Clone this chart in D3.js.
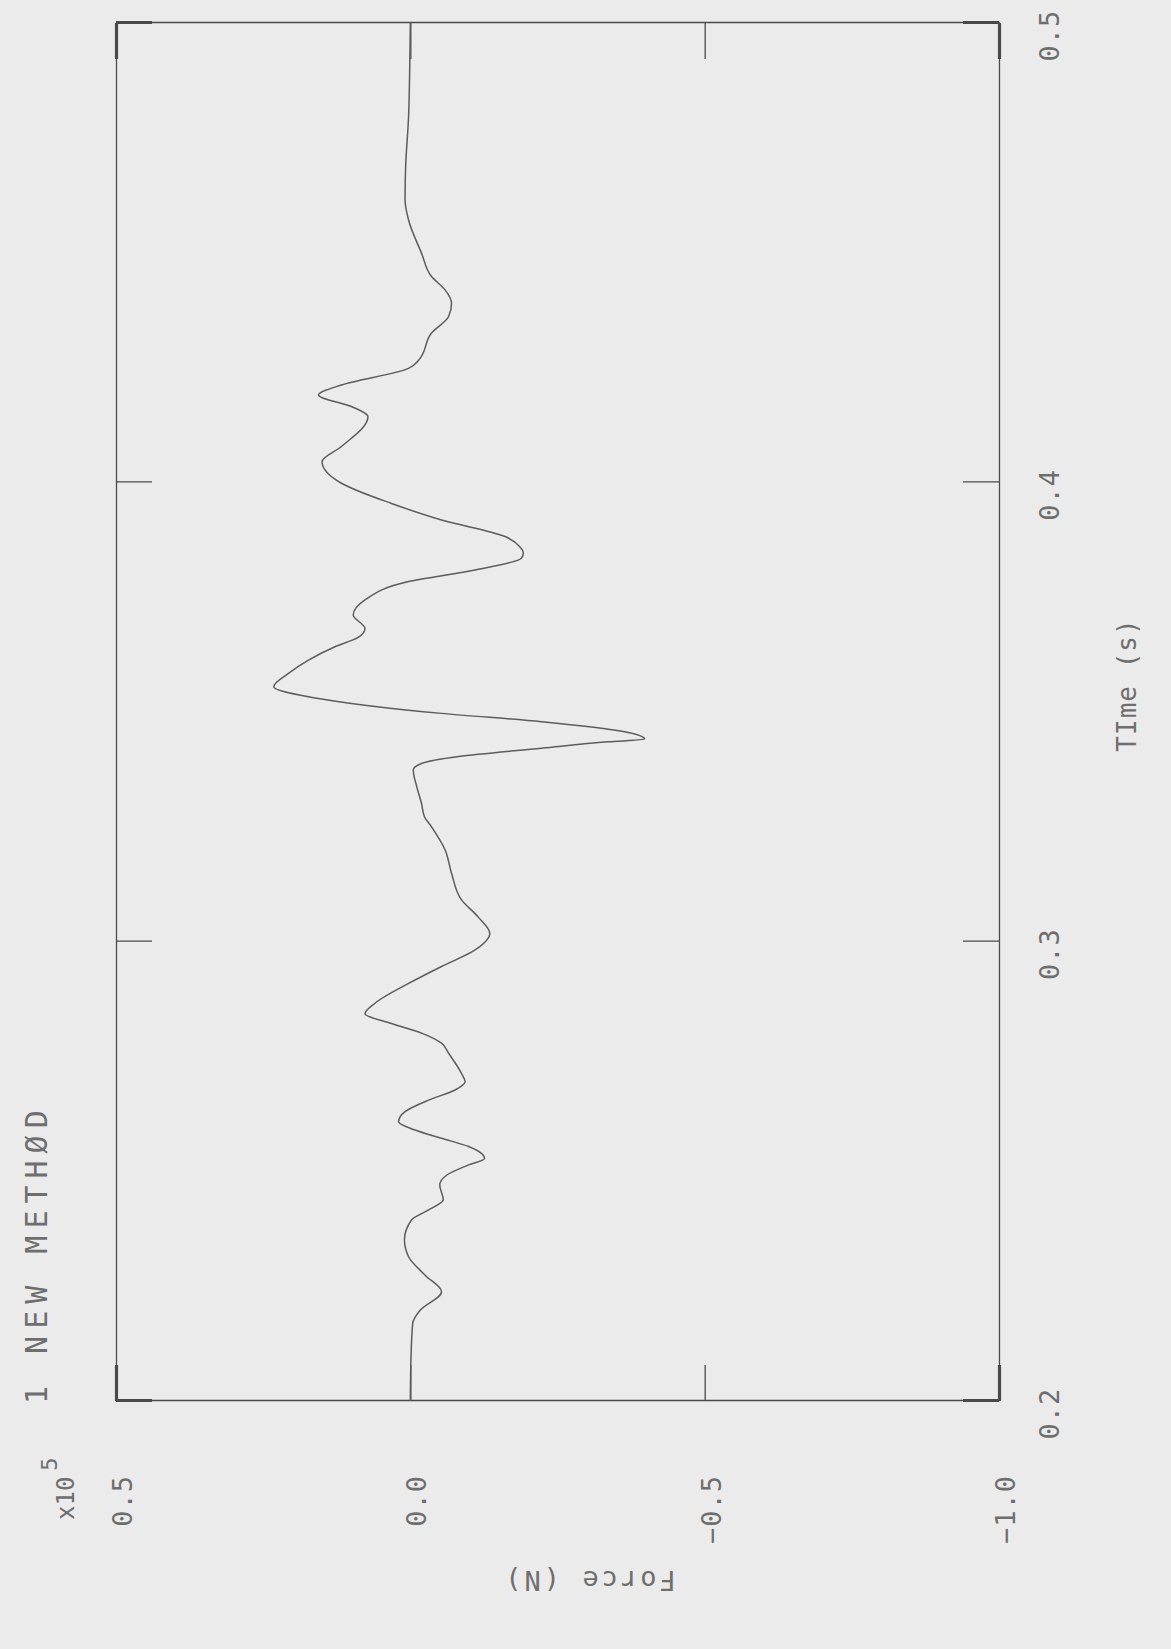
<!DOCTYPE html>
<html>
<head>
<meta charset="utf-8">
<script src="https://cdn.jsdelivr.net/npm/d3@7"></script>
<style>
    body {margin: 0; background: #ebebeb;}
    svg {display: block;}
    text {font-family: "DejaVu Sans Mono", monospace; fill: #6e6e6e;}
    .axis path, .axis line {stroke: #4a4a4a; stroke-width: 1.3; fill: none;}
    .axis line.end {stroke-width: 3.2;}
    .line.main {fill: none; stroke: #5c5c5c; stroke-width: 1.5;}
</style>
</head>
<body>
<svg id="chart" width="1171" height="1649"></svg>
<script>
// force curve (force in units of 1e5 N)
var timeS = [0.2000, 0.2089, 0.2169, 0.2198, 0.2238, 0.2274, 0.2314, 0.2351, 0.2394, 0.2416,
    0.2438, 0.2470, 0.2492, 0.2514, 0.2528, 0.2554, 0.2572, 0.2590, 0.2608, 0.2630,
    0.2655, 0.2677, 0.2695, 0.2713, 0.2757, 0.2779, 0.2801, 0.2822, 0.2843, 0.2866,
    0.2909, 0.2946, 0.2982, 0.3018, 0.3054, 0.3091, 0.3149, 0.3200, 0.3250, 0.3272,
    0.3301, 0.3337, 0.3374, 0.3388, 0.3403, 0.3421, 0.3435, 0.3441, 0.3457, 0.3479,
    0.3497, 0.3512, 0.3533, 0.3555, 0.3584, 0.3613, 0.3642, 0.3663, 0.3682, 0.3711,
    0.3744, 0.3784, 0.3809, 0.3835, 0.3846, 0.3860, 0.3882, 0.3918, 0.3954, 0.3998,
    0.4045, 0.4078, 0.4143, 0.4165, 0.4190, 0.4212, 0.4248, 0.4266, 0.4325, 0.4361,
    0.4390, 0.4419, 0.4448, 0.4499, 0.4571, 0.4615, 0.4687, 0.4796, 0.4905, 0.5000];

var forceN = [0.000, -0.001, -0.004, -0.017, -0.053, -0.025, 0.003, 0.010, -0.002, -0.031,
    -0.056, -0.050, -0.062, -0.099, -0.126, -0.099, -0.053, -0.008, 0.020, 0.009,
    -0.031, -0.076, -0.093, -0.087, -0.065, -0.053, -0.019, 0.032, 0.077, 0.060,
    0.003, -0.053, -0.110, -0.135, -0.115, -0.087, -0.070, -0.059, -0.036, -0.024,
    -0.019, -0.011, -0.005, -0.019, -0.082, -0.223, -0.336, -0.398, -0.364, -0.223,
    -0.053, 0.060, 0.173, 0.232, 0.207, 0.173, 0.128, 0.088, 0.077, 0.097,
    0.077, 0.003, -0.110, -0.189, -0.192, -0.186, -0.161, -0.053, 0.032, 0.117,
    0.150, 0.117, 0.072, 0.100, 0.156, 0.117, 0.003, -0.014, -0.036, -0.065,
    -0.070, -0.059, -0.036, -0.019, 0.003, 0.009, 0.008, 0.003, 0.001, 0.000];

var timeTicks = [0.2, 0.3, 0.4, 0.5];
var forceTicks = [0.5, 0.0, -0.5, -1.0];
var titleText = "1 NEW METHØD";

var data = timeS.map(function(t, i) {return {t: t, f: forceN[i]}});

var svg = d3.select("#chart");

// the sheet is turned a quarter turn: time runs up the page, force runs leftwards
var left = 116, bottom = 1401
    , width = 1378   // time extent
    , height = 883   // force extent
    , tick = 36;

var g = svg.append("g")
    .attr("transform", "translate(" + left + "," + bottom + ") rotate(-90)");

var x = d3.scaleLinear().domain([0.2, 0.5]).range([0, width]);
var y = d3.scaleLinear().domain([0.5, -1.0]).range([0, height]);
var fmt = d3.format(".1f");

function markEnds(axisG, ends) {
    axisG.selectAll(".tick line")
        .classed("end", function(d) {return ends.indexOf(d) >= 0});
}

var xAxis = g.append("g")
    .attr("class", "axis axis--x")
    .attr("transform", "translate(0," + height + ")")
    .call(d3.axisBottom(x).tickValues(timeTicks).tickSizeInner(-tick).tickSizeOuter(0).tickFormat(fmt));
xAxis.selectAll("text")
    .attr("x", -13)
    .attr("y", 50)
    .attr("dy", null)
    .attr("dominant-baseline", "central")
    .style("font-size", "27px")
    .style("letter-spacing", "1px");
markEnds(xAxis, [0.2, 0.5]);

var xTop = g.append("g")
    .attr("class", "axis axis--x2")
    .call(d3.axisTop(x).tickValues(timeTicks).tickSizeInner(-tick).tickSizeOuter(0).tickFormat(""));
markEnds(xTop, [0.2, 0.5]);

var yAxis = g.append("g")
    .attr("class", "axis axis--y")
    .call(d3.axisLeft(y).tickValues(forceTicks).tickSizeInner(-tick).tickSizeOuter(0).tickFormat(fmt));
yAxis.selectAll("text")
    .attr("x", -74)
    .attr("y", 6)
    .attr("dy", null)
    .attr("dominant-baseline", "central")
    .style("font-size", "27px")
    .style("letter-spacing", "1px");
markEnds(yAxis, [0.5, -1.0]);

var yRight = g.append("g")
    .attr("class", "axis axis--y2")
    .attr("transform", "translate(" + width + ",0)")
    .call(d3.axisRight(y).tickValues(forceTicks).tickSizeInner(-tick).tickSizeOuter(0).tickFormat(""));
markEnds(yRight, [0.5, -1.0]);

var line = d3.line()
    .x(function(d) {return x(d.t)})
    .y(function(d) {return y(d.f)})
    .curve(d3.curveMonotoneX);

g.append("path")
    .datum(data)
    .attr("class", "line main")
    .attr("d", line);

// title and scale factor above the force axis
g.append("text")
    .attr("x", -3)
    .attr("y", -69)
    .style("font-size", "30px")
    .style("letter-spacing", "7px")
    .text(titleText);

var scaleLabel = g.append("text")
    .attr("x", -119)
    .attr("y", -42)
    .style("font-size", "24px")
    .text("x10");
scaleLabel.append("tspan")
    .attr("dx", 6)
    .attr("dy", -17)
    .style("font-size", "22px")
    .text("5");

g.append("text")
    .attr("transform", "translate(-179,473) rotate(-90)")
    .attr("text-anchor", "middle")
    .attr("dominant-baseline", "central")
    .style("font-size", "27px")
    .style("letter-spacing", "3px")
    .text("Force (N)");

g.append("text")
    .attr("x", 716)
    .attr("y", height + 128)
    .attr("text-anchor", "middle")
    .attr("dominant-baseline", "central")
    .style("font-size", "26px")
    .style("letter-spacing", "1px")
    .text("TIme (s)");
</script>
</body>
</html>
